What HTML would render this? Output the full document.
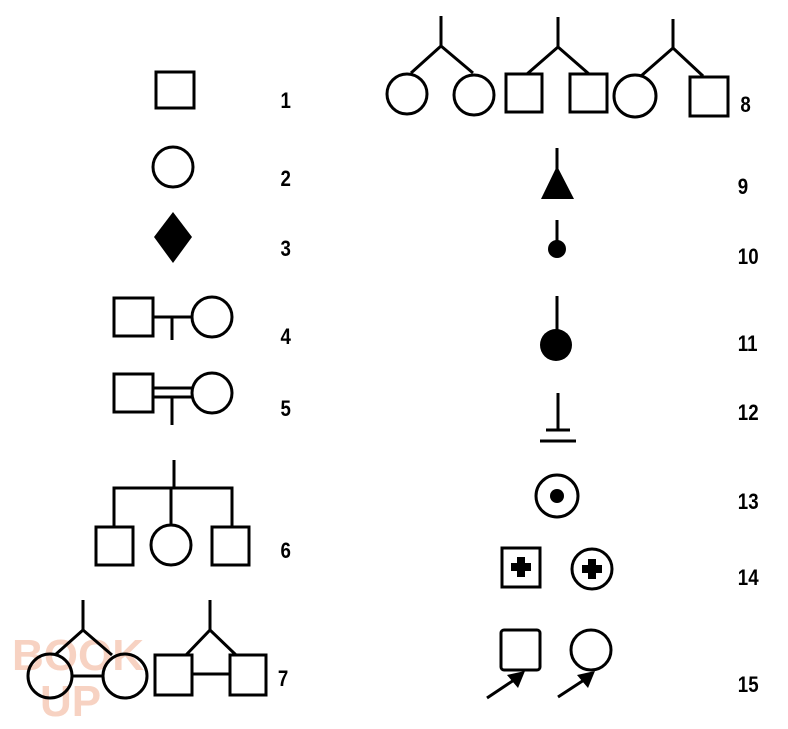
<!DOCTYPE html>
<html><head><meta charset="utf-8"><style>
html,body{margin:0;padding:0;background:#fff}
svg{display:block}
text{font-family:"Liberation Sans",sans-serif;font-weight:bold;font-size:22px;fill:#000}
</style></head><body>
<svg width="788" height="729" viewBox="0 0 788 729" xmlns="http://www.w3.org/2000/svg">
<text x="12" y="670" style="font-size:44px;fill:#f7d2c2;font-weight:bold">BOOK</text>
<text x="40" y="716" style="font-size:44px;fill:#f7d2c2;font-weight:bold">UP</text>
<g fill="none" stroke="#000" stroke-width="3">
<rect x="156" y="72" width="38" height="36"/>
<circle cx="173" cy="167" r="20"/>
<rect x="114" y="298" width="39" height="38"/>
<circle cx="212" cy="317" r="20"/>
<line x1="153" y1="317" x2="192" y2="317"/>
<line x1="172" y1="317" x2="172" y2="340"/>
<rect x="114" y="374" width="39" height="38"/>
<circle cx="212" cy="393" r="20"/>
<line x1="153" y1="388" x2="192" y2="388"/>
<line x1="153" y1="397" x2="192" y2="397"/>
<line x1="172" y1="397" x2="172" y2="425"/>
<line x1="174" y1="460" x2="174" y2="488"/>
<polyline points="114,527 114,488 232,488 232,527"/>
<line x1="171" y1="488" x2="171" y2="525"/>
<rect x="96" y="527" width="37" height="38"/>
<circle cx="171" cy="545" r="20"/>
<rect x="212" y="527" width="37" height="38"/>
<line x1="83" y1="600" x2="83" y2="630"/>
<polyline points="55,655 83,630 112,655"/>
<circle cx="50" cy="676" r="22"/>
<circle cx="125" cy="676" r="22"/>
<line x1="71" y1="676" x2="103" y2="676"/>
<line x1="210" y1="600" x2="210" y2="630"/>
<polyline points="186,655 210,630 236,655"/>
<rect x="155" y="655" width="37" height="40"/>
<rect x="230" y="655" width="36" height="40"/>
<line x1="192" y1="674" x2="230" y2="674"/>
<line x1="441" y1="16" x2="441" y2="46"/>
<polyline points="411,73 441,46 473,73"/>
<circle cx="407" cy="94" r="20"/>
<circle cx="474" cy="95" r="20"/>
<line x1="558" y1="17" x2="558" y2="47"/>
<polyline points="527,74 558,47 589,74"/>
<rect x="506" y="74" width="36" height="38"/>
<rect x="570" y="74" width="37" height="38"/>
<line x1="673" y1="19" x2="673" y2="48"/>
<polyline points="641,76 673,48 703,76"/>
<circle cx="635" cy="96" r="21"/>
<rect x="690" y="77" width="38" height="39"/>
<line x1="557" y1="148" x2="557" y2="175"/>
<line x1="557" y1="220" x2="557" y2="242"/>
<line x1="557" y1="296" x2="557" y2="332"/>
<line x1="558" y1="393" x2="558" y2="430"/>
<line x1="546" y1="430" x2="570" y2="430"/>
<line x1="540" y1="441" x2="576" y2="441"/>
<circle cx="557" cy="496" r="21"/>
<rect x="502" y="548" width="38" height="39"/>
<circle cx="592" cy="569" r="20"/>
<rect x="501" y="630" width="39" height="40" rx="3"/>
<circle cx="591" cy="650" r="20"/>
<line x1="487" y1="698" x2="514" y2="680"/>
<line x1="558" y1="697" x2="584" y2="680"/>
</g>
<g fill="#000">
<polygon points="173,212 192,237 173,263 154,237"/>
<polygon points="557,166 574,199 541,199"/>
<circle cx="557" cy="249" r="9"/>
<circle cx="556" cy="345" r="16"/>
<circle cx="557" cy="496" r="7"/>
<rect x="511" y="563" width="20" height="8"/>
<rect x="517" y="557" width="8" height="20"/>
<rect x="582" y="565" width="20" height="8"/>
<rect x="588" y="559" width="8" height="20"/>
<polygon points="525,671 507,675 518,688"/>
<polygon points="595,671 577,675 588,688"/>
</g>
<g transform="scale(0.85,1)">
<text x="330" y="108">1</text>
<text x="330" y="186">2</text>
<text x="330" y="256">3</text>
<text x="330" y="344">4</text>
<text x="330" y="416">5</text>
<text x="330" y="558">6</text>
<text x="327" y="686">7</text>
<text x="871" y="112">8</text>
<text x="868" y="194">9</text>
<text x="868" y="264">10</text>
<text x="868" y="351">11</text>
<text x="868" y="420">12</text>
<text x="868" y="509">13</text>
<text x="868" y="585">14</text>
<text x="868" y="692">15</text>
</g>
</svg>
</body></html>
